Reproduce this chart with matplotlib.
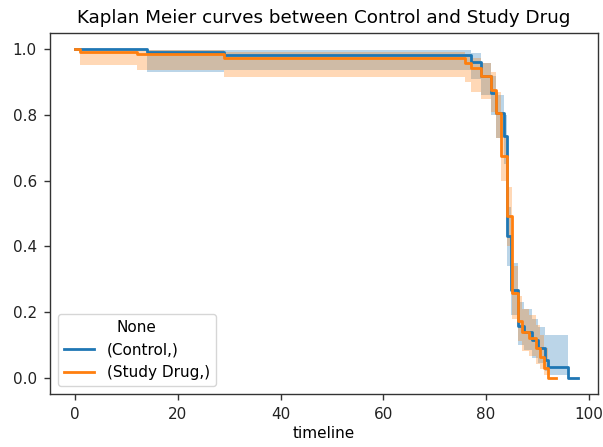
import matplotlib
matplotlib.use("Agg")
import matplotlib.pyplot as plt
import numpy as np

# ---- data ----
t_control = [0, 14, 29, 77, 79, 81, 82, 83.5, 84, 84.8, 86.2, 87.3, 88.9, 90.2, 91.5, 92.1, 96, 98]
s_control = [1.0, 0.993, 0.983, 0.961, 0.919, 0.868, 0.807, 0.735, 0.430, 0.268, 0.156, 0.140, 0.115, 0.090, 0.054, 0.031, 0.0, 0.0]
lo_control = [1.0, 0.932, 0.937, 0.91, 0.86, 0.80, 0.73, 0.65, 0.34, 0.19, 0.10, 0.085, 0.06, 0.045, 0.02, 0.008, 0.0, 0.0]
hi_control = [1.0, 0.999, 0.997, 0.989, 0.96, 0.92, 0.86, 0.80, 0.52, 0.35, 0.23, 0.21, 0.18, 0.155, 0.13, 0.13, 0.0, 0.0]

t_drug = [0, 1, 12, 29, 76, 77, 79, 81, 82, 83, 84, 85, 86.2, 87.0, 88.3, 89.7, 90.5, 91.2, 92.0, 93.6]
s_drug = [1.0, 0.993, 0.986, 0.975, 0.958, 0.943, 0.918, 0.877, 0.806, 0.674, 0.491, 0.258, 0.171, 0.140, 0.121, 0.090, 0.064, 0.030, 0.0, 0.0]
lo_drug = [1.0, 0.954, 0.937, 0.917, 0.90, 0.87, 0.85, 0.81, 0.73, 0.60, 0.40, 0.18, 0.11, 0.08, 0.065, 0.04, 0.025, 0.008, 0.0, 0.0]
hi_drug = [1.0, 0.999, 0.997, 0.993, 0.985, 0.975, 0.96, 0.93, 0.87, 0.74, 0.58, 0.34, 0.25, 0.21, 0.19, 0.16, 0.13, 0.09, 0.0, 0.0]

labels = ["(Control,)", "(Study Drug,)"]
title = "Kaplan Meier curves between Control and Study Drug"

FS = 11
plt.rcParams["font.family"] = ["DejaVu Sans"]
plt.rcParams["font.size"] = FS

fig = plt.figure(figsize=(6.03, 4.47), dpi=100)
ax = fig.add_axes([50 / 603, 1 - 394 / 447, 548 / 603, 361 / 447])

series = [(t_control, s_control, lo_control, hi_control, "C0", labels[0]),
          (t_drug, s_drug, lo_drug, hi_drug, "C1", labels[1])]
for t, s, lo, hi, c, lab in series:
    ax.plot(t, s, drawstyle="steps-post", color=c, lw=2.0, label=lab)
    ax.fill_between(t, lo, hi, step="post", color=c, alpha=0.3, linewidth=0)

ax.set_xlim(-4.9, 101.8)
ax.set_ylim(-0.05, 1.05)
ax.set_xticks([0, 20, 40, 60, 80, 100])
ax.set_yticks([0.0, 0.2, 0.4, 0.6, 0.8, 1.0])
ax.set_yticklabels(["0.0", "0.2", "0.4", "0.6", "0.8", "1.0"])
ax.tick_params(length=4.5, width=1.0, labelsize=FS, colors="#333333", labelcolor="#222222", pad=5)
for sp in ax.spines.values():
    sp.set_linewidth(1.0)
    sp.set_color("#333333")
ax.set_xlabel("timeline", fontsize=FS, labelpad=3)
ax.set_title(title, fontsize=13.2, pad=7)
leg = ax.legend(title="None", loc="lower left", fontsize=FS, title_fontsize=FS)

fig.savefig("out.png", dpi=100)
